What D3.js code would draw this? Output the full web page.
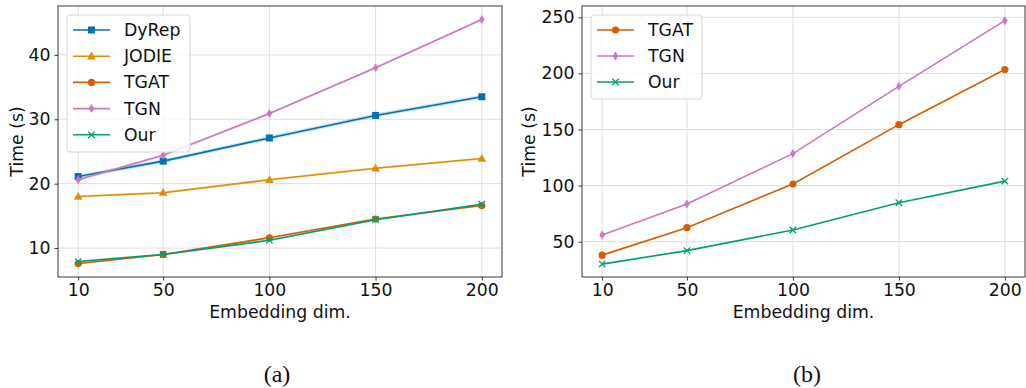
<!DOCTYPE html>
<html>
<head>
<meta charset="utf-8">
<script src="https://cdn.jsdelivr.net/npm/d3@7"></script>
<style>
  html, body { margin: 0; padding: 0; background: #fff; }
  svg { display: block; }
  text { font-family: "DejaVu Sans", sans-serif; }
</style>
</head>
<body>
<svg id="chart" width="1026" height="388"></svg>
<script>
// ---------------- data ----------------
const dims = [10, 50, 100, 150, 200];
const xTicks = [10, 50, 100, 150, 200];

// panel (a)
const dyrepA = [21.1, 23.5, 27.1, 30.6, 33.5];
const jodieA = [18.0, 18.6, 20.6, 22.4, 23.9];
const tgatA  = [7.6, 9.0, 11.6, 14.5, 16.6];
const tgnA   = [20.6, 24.4, 30.9, 38.0, 45.5];
const ourA   = [7.9, 9.0, 11.2, 14.4, 16.8];
const stdA   = { DyRep: [0.3, 0.3, 0.3, 0.3, 0.3], JODIE: [0.2, 0.2, 0.2, 0.2, 0.2],
                 TGAT: [0.15, 0.15, 0.15, 0.15, 0.15], TGN: [0.2, 0.2, 0.2, 0.2, 0.2],
                 Our: [0.15, 0.15, 0.15, 0.15, 0.15] };
const yTicksA = [10, 20, 30, 40];

// panel (b)
const tgatB = [38.0, 62.5, 101.4, 154.3, 203.5];
const tgnB  = [56.0, 83.5, 128.5, 188.5, 247.0];
const ourB  = [30.0, 42.0, 60.4, 84.7, 104.0];
const yTicksB = [50, 100, 150, 200, 250];

// ---------------- styling ----------------
const colors = { DyRep: "#0173b2", JODIE: "#de8f05", TGAT: "#d55e00", TGN: "#cc78bc", Our: "#029e73" };
const markers = { DyRep: "square", JODIE: "triangle", TGAT: "circle", TGN: "diamond", Our: "x" };
const FS = 17.3;

const svg = d3.select("#chart");

function drawMarker(g, type, cx, cy, color) {
  if (type === "square") {
    g.append("rect").attr("x", cx - 3.5).attr("y", cy - 3.5).attr("width", 7).attr("height", 7).attr("fill", color);
  } else if (type === "triangle") {
    g.append("path").attr("d", `M${cx},${cy - 4.6}L${cx + 4.3},${cy + 3.2}L${cx - 4.3},${cy + 3.2}Z`).attr("fill", color);
  } else if (type === "circle") {
    g.append("circle").attr("cx", cx).attr("cy", cy).attr("r", 3.6).attr("fill", color);
  } else if (type === "diamond") {
    g.append("path").attr("d", `M${cx},${cy - 4.5}L${cx + 2.8},${cy}L${cx},${cy + 4.5}L${cx - 2.8},${cy}Z`).attr("fill", color);
  } else if (type === "x") {
    g.append("path").attr("d", `M${cx - 3.2},${cy - 3.2}L${cx + 3.2},${cy + 3.2}M${cx - 3.2},${cy + 3.2}L${cx + 3.2},${cy - 3.2}`)
      .attr("stroke", color).attr("stroke-width", 1.3).attr("fill", "none");
  }
}

function panel(cfg) {
  const { left, right, top, bottom, yDomain, yTicks, series, legend, std } = cfg;
  const x = d3.scaleLinear().domain([0.5, 209.5]).range([left, right]);
  const y = d3.scaleLinear().domain(yDomain).range([bottom, top]);
  const g = svg.append("g");

  const clipId = "clip" + left;
  svg.append("clipPath").attr("id", clipId).append("rect")
    .attr("x", left).attr("y", top).attr("width", right - left).attr("height", bottom - top);

  // grid
  const grid = g.append("g");
  xTicks.forEach(t => grid.append("line").attr("x1", x(t)).attr("x2", x(t)).attr("y1", top).attr("y2", bottom)
    .attr("stroke", "#dedede").attr("stroke-width", 1));
  yTicks.forEach(t => grid.append("line").attr("x1", left).attr("x2", right).attr("y1", y(t)).attr("y2", y(t))
    .attr("stroke", "#dedede").attr("stroke-width", 1));

  // axes
  const xAxis = d3.axisBottom(x).tickValues(xTicks).tickSize(3.5).tickPadding(3.5).tickFormat(d3.format("d"));
  const yAxis = d3.axisLeft(y).tickValues(yTicks).tickSize(3.5).tickPadding(4).tickFormat(d3.format("d"));
  const gx = g.append("g").attr("transform", `translate(0,${bottom})`).call(xAxis);
  const gy = g.append("g").attr("transform", `translate(${left},0)`).call(yAxis);
  [gx, gy].forEach(a => {
    a.select(".domain").remove();
    a.selectAll(".tick line").attr("stroke", "#222").attr("stroke-width", 0.9);
    a.selectAll(".tick text").attr("font-size", FS).attr("fill", "#111")
      .style("font-family", "'DejaVu Sans', sans-serif");
  });

  // lines
  const plot = g.append("g").attr("clip-path", `url(#${clipId})`);
  const line = d3.line().x((d, i) => x(dims[i])).y(d => y(d));
  series.forEach(s => {
    if (std && std[s.name]) {
      const sd = std[s.name];
      const area = d3.area().x((d, i) => x(dims[i])).y0((d, i) => y(d - sd[i])).y1((d, i) => y(d + sd[i]));
      plot.append("path").attr("d", area(s.values)).attr("fill", colors[s.name]).attr("opacity", 0.22);
    }
    plot.append("path").attr("d", line(s.values)).attr("fill", "none")
      .attr("stroke", colors[s.name]).attr("stroke-width", 1.6);
    const mg = plot.append("g");
    s.values.forEach((v, i) => drawMarker(mg, markers[s.name], x(dims[i]), y(v), colors[s.name]));
  });

  // frame
  g.append("rect").attr("x", left).attr("y", top).attr("width", right - left).attr("height", bottom - top)
    .attr("fill", "none").attr("stroke", "#222").attr("stroke-width", 0.9);

  // labels
  g.append("text").attr("x", (left + right) / 2).attr("y", 318).attr("text-anchor", "middle")
    .attr("font-size", FS).attr("fill", "#111").text("Embedding dim.");
  g.append("text").attr("transform", `translate(${cfg.ylabX},${(top + bottom) / 2}) rotate(-90)`)
    .attr("text-anchor", "middle").attr("dominant-baseline", "central")
    .attr("font-size", FS).attr("fill", "#111").text("Time (s)");

  // legend
  const lg = g.append("g");
  lg.append("rect").attr("x", legend.x).attr("y", legend.y).attr("width", legend.w).attr("height", legend.h)
    .attr("rx", 3).attr("fill", "#fff").attr("fill-opacity", 0.8).attr("stroke", "#d6d6d6").attr("stroke-width", 1);
  series.forEach((s, i) => {
    const cy = legend.y + 15 + i * legend.step;
    lg.append("line").attr("x1", legend.x + 6).attr("x2", legend.x + 43).attr("y1", cy).attr("y2", cy)
      .attr("stroke", colors[s.name]).attr("stroke-width", 1.6);
    drawMarker(lg, markers[s.name], legend.x + 24.5, cy, colors[s.name]);
    lg.append("text").attr("x", legend.x + 57).attr("y", cy).attr("dominant-baseline", "central")
      .attr("font-size", FS).attr("fill", "#111").text(s.name);
  });

  // caption
  svg.append("text").attr("x", cfg.capX).attr("y", 382).attr("text-anchor", "middle")
    .style("font-family", "'Liberation Serif', 'Times New Roman', serif").attr("font-size", 24)
    .attr("fill", "#111").text(cfg.caption);
}

panel({
  left: 58, right: 502, top: 6, bottom: 277,
  yDomain: [5.5, 47.6], yTicks: yTicksA, ylabX: 17,
  series: [
    { name: "DyRep", values: dyrepA },
    { name: "JODIE", values: jodieA },
    { name: "TGAT", values: tgatA },
    { name: "TGN", values: tgnA },
    { name: "Our", values: ourA }
  ],
  std: stdA,
  legend: { x: 67, y: 15, w: 123, h: 137, step: 26.2 },
  caption: "(a)", capX: 277
});

panel({
  left: 582, right: 1025, top: 6, bottom: 277,
  yDomain: [18.5, 260.1], yTicks: yTicksB, ylabX: 529,
  series: [
    { name: "TGAT", values: tgatB },
    { name: "TGN", values: tgnB },
    { name: "Our", values: ourB }
  ],
  legend: { x: 591, y: 15, w: 111, h: 84, step: 26 },
  caption: "(b)", capX: 807
});
</script>
</body>
</html>
